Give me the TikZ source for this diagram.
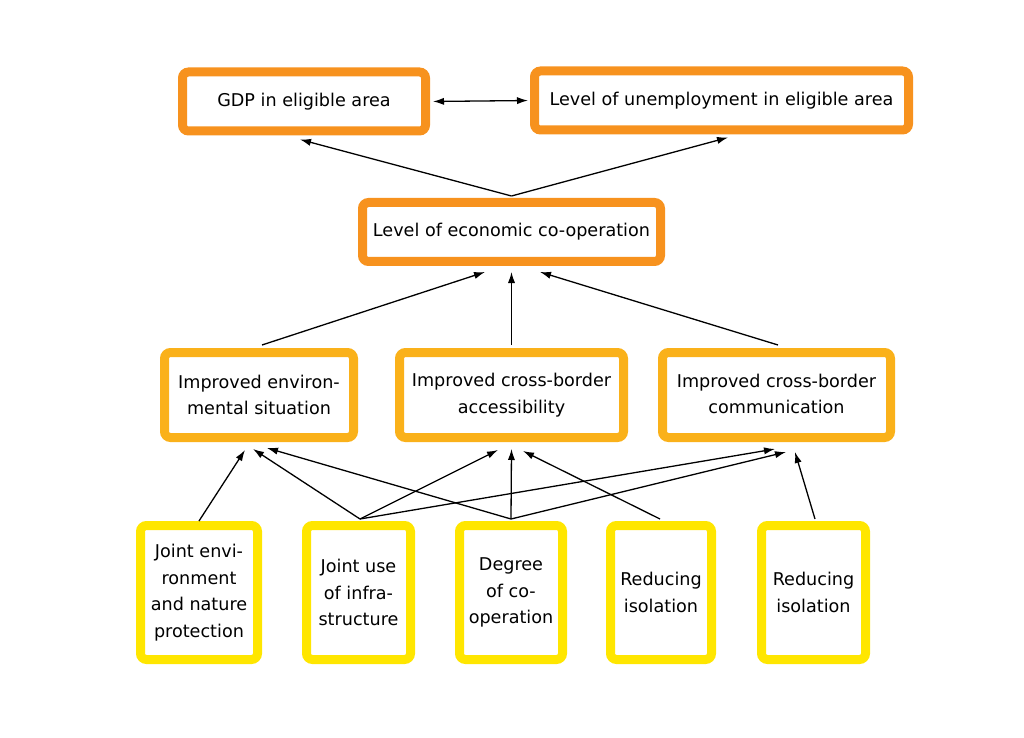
\documentclass[tikz,border=0pt]{standalone}
\usepackage{fontspec}
\setmainfont{DejaVu Sans}
\usetikzlibrary{arrows.meta}

\definecolor{topor}{HTML}{F7921E}
\definecolor{midor}{HTML}{FAB11A}
\definecolor{lowye}{HTML}{FFE600}

\tikzset{
  box/.style={draw, line width=4.5pt, rounded corners=3pt, fill=white, align=center,
    inner sep=0pt, font=\fontsize{8.8}{13.3}\selectfont},
  topbox/.style={box, draw=topor, minimum height=29.5pt},
  midbox/.style={box, draw=midor, minimum height=42.5pt},
  lowbox/.style={box, draw=lowye, minimum height=67pt},
  link/.style={line width=0.65pt, -{Latex[length=5.5pt,width=3.6pt]}}
}

\begin{document}
\begin{tikzpicture}[x=0.5pt,y=-0.5pt]
        % page frame
        \useasboundingbox (0,0) rectangle (1024,738);

        % top results
        \node[topbox, minimum width=121.5pt] (gdp) at (304,101.5) {GDP in eligible area};
        \node[topbox, minimum width=187pt] (unemp) at (721.5,100.5) {Level of unemployment in eligible area};
        \node[topbox, minimum width=149pt] (coop) at (511.5,232) {Level of economic co-operation};

        % intermediate results
        \node[midbox, minimum width=94.5pt] (env) at (259,395) {Improved environ-\\mental situation};
        \node[midbox, minimum width=112pt] (acc) at (511.5,395) {Improved cross-border\\accessibility};
        \node[midbox, minimum width=114pt] (comm) at (776.5,395)
          {\raisebox{2.5pt}{\begin{tabular}{@{}c@{}}Improved cross-border\\communication\end{tabular}}};

        % measures
        \node[lowbox, minimum width=58.5pt] (nat) at (199,592.5) {Joint envi-\\ronment\\and nature\\protection};
        \node[lowbox, minimum width=52pt] (infra) at (358.5,592.5) {Joint use\\of infra-\\structure};
        \node[lowbox, minimum width=51.5pt] (degree) at (511,592.5) {Degree\\of co-\\operation};
        \node[lowbox, minimum width=50.5pt] (isoa) at (661,592.5) {Reducing\\isolation};
        \node[lowbox, minimum width=52pt] (isob) at (813.5,592.5) {Reducing\\isolation};

        % top links
        \draw[link, {Latex[length=5.5pt,width=3.6pt]}-{Latex[length=5.5pt,width=3.6pt]}, shorten <=1.5pt, shorten >=1pt] (gdp.east) -- (unemp.west);
        \draw[link] ([yshift=1pt]coop.north) -- ([xshift=-2pt,yshift=-2pt]gdp.south);
        \draw[link] ([yshift=1pt]coop.north) -- ([xshift=3.25pt,yshift=-1.5pt]unemp.south);

        % middle to co-operation
        \draw[link] ([xshift=1.5pt,yshift=1.5pt]env.north) -- ([xshift=-13.25pt,yshift=-3pt]coop.south);
        \draw[link] ([yshift=1.5pt]acc.north) -- ([yshift=-3pt]coop.south);
        \draw[link] ([xshift=0.75pt,yshift=1.5pt]comm.north) -- ([xshift=14.25pt,yshift=-3pt]coop.south);

        % measures to middle
        \draw[link] (nat.north) -- ([xshift=-7pt,yshift=-4pt]env.south);
        \draw[link] ([xshift=0.75pt,yshift=1pt]infra.north) -- ([xshift=-3pt,yshift=-3.5pt]env.south);
        \draw[link] ([xshift=0.75pt,yshift=1pt]infra.north) -- ([xshift=-6.75pt,yshift=-4pt]acc.south);
        \draw[link] ([xshift=0.75pt,yshift=1pt]infra.north) -- ([xshift=-0.75pt,yshift=-3.5pt]comm.south);
        \draw[link] ([yshift=1pt]degree.north) -- ([xshift=4pt,yshift=-3pt]env.south);
        \draw[link] ([yshift=1pt]degree.north) -- ([yshift=-3.5pt]acc.south);
        \draw[link] ([yshift=1pt]degree.north) -- ([xshift=4.75pt,yshift=-5pt]comm.south);
        \draw[link] ([xshift=-0.5pt,yshift=1pt]isoa.north) -- ([xshift=5.75pt,yshift=-4.5pt]acc.south);
        \draw[link] ([xshift=0.75pt,yshift=1pt]isob.north) -- ([xshift=9.25pt,yshift=-5pt]comm.south);
    \end{tikzpicture}
\end{document}
